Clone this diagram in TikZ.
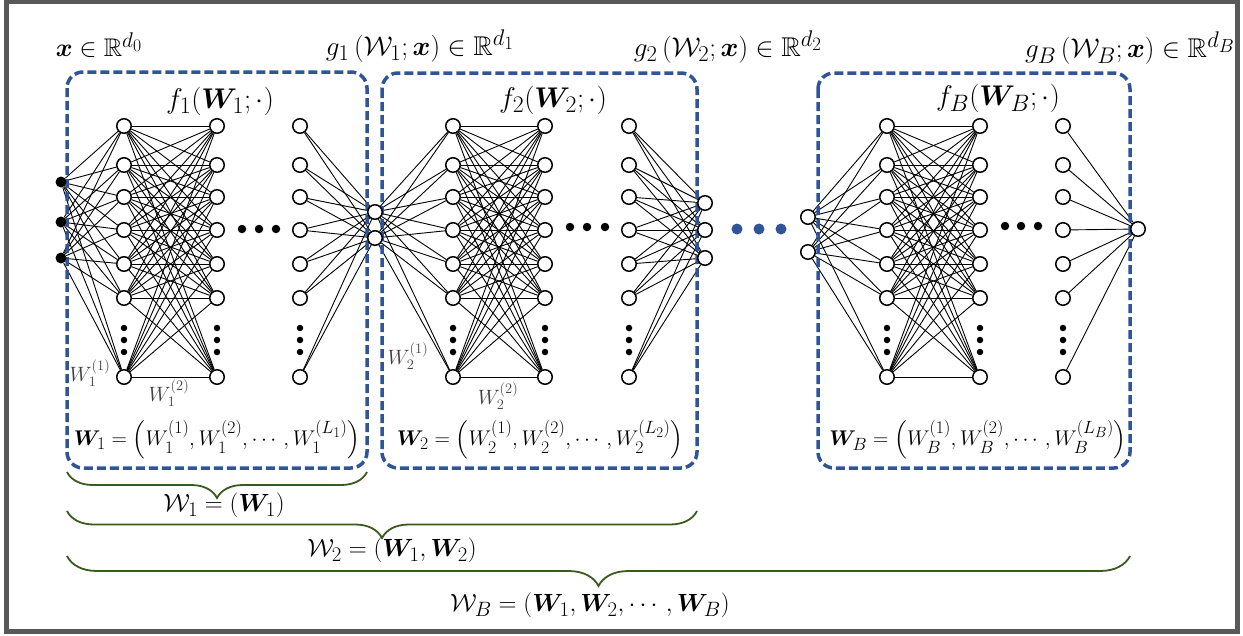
\documentclass[tikz,border=0pt]{standalone}
\usepackage{amsmath,amssymb,bm}
\usetikzlibrary{decorations.pathreplacing}
\definecolor{boxblue}{HTML}{2F5597}
\definecolor{bracegreen}{HTML}{3B5A1F}
\definecolor{framegray}{HTML}{595959}
\pgfdeclarelayer{edgelayer}
\pgfdeclarelayer{boxlayer}
\pgfsetlayers{edgelayer,boxlayer,main}
\begin{document}
\begin{tikzpicture}[x=1pt,y=-1pt,
  neuron/.style={circle,draw,line width=1.5pt,fill=white,minimum size=14.5pt,inner sep=0pt},
  innode/.style={circle,fill=black,minimum size=11pt,inner sep=0pt},
  vdot/.style={circle,fill=black,minimum size=6.5pt,inner sep=0pt},
  hdot/.style={circle,fill=black,minimum size=8.5pt,inner sep=0pt},
  bdot/.style={circle,fill=boxblue,minimum size=11pt,inner sep=0pt},
  conn/.style={line width=0.9pt},
  blockbox/.style={draw=boxblue,line width=3.5pt,dash pattern=on 9pt off 4pt,rounded corners=16pt},
  gbrace/.style={draw=bracegreen,line width=1.8pt,decorate,decoration={brace,mirror,amplitude=#1}},
  lab/.style={font=\Huge,inner sep=0pt},
  xlab/.style={font=\Huge,inner sep=0pt,scale=1.025,transform shape},
  glab/.style={font=\Huge,inner sep=0pt,scale=1.09,transform shape},
  flab/.style={font=\Huge,inner sep=0pt,scale=1.145,transform shape},
  blab/.style={font=\Huge,inner sep=0pt,scale=0.855,transform shape},
  wlab/.style={font=\huge,text=black!75,inner sep=0pt},
]
\useasboundingbox (0,0) rectangle (1243,635);
\draw[framegray,line width=5pt] (6.5,1.5) rectangle (1237.5,631.5);

% layers of the three blocks
\foreach \b/\xa/\xb/\xc in {1/124/217/300, 2/453/545/629, 3/887/980/1063}{
  \foreach \i/\y in {1/126,2/165,3/197,4/230,5/264,6/298,7/377}{
    \node[neuron] (b\b a\i) at (\xa,\y) {};
    \node[neuron] (b\b b\i) at (\xb,\y) {};
    \node[neuron] (b\b c\i) at (\xc,\y) {};
  }
  \foreach \k/\yy in {1/328,2/340,3/352}{
    \node[vdot] (b\b va\k) at (\xa,\yy) {};
    \node[vdot] (b\b vb\k) at (\xb,\yy) {};
    \node[vdot] (b\b vc\k) at (\xc,\yy) {};
  }
}
% inputs / outputs
\node[innode] (in1) at (61,182) {};
\node[innode] (in2) at (61,222) {};
\node[innode] (in3) at (61,258) {};
\node[neuron] (o11) at (375,212) {};
\node[neuron] (o12) at (375,238) {};
\node[neuron] (o21) at (705,203) {};
\node[neuron] (o22) at (705,230) {};
\node[neuron] (o23) at (705,258) {};
\node[neuron] (i31) at (808,217) {};
\node[neuron] (i32) at (808,252) {};
\node[neuron] (o31) at (1138,229) {};
% horizontal ellipses
\node[hdot] (h11) at (242,229) {};
\node[hdot] (h12) at (259,229) {};
\node[hdot] (h13) at (276,229) {};
\node[hdot] (h21) at (570,227) {};
\node[hdot] (h22) at (587,227) {};
\node[hdot] (h23) at (605,227) {};
\node[hdot] (h31) at (1005,226) {};
\node[hdot] (h32) at (1021,226) {};
\node[hdot] (h33) at (1038,226) {};
\node[bdot] (bd1) at (737,229) {};
\node[bdot] (bd2) at (759,229) {};
\node[bdot] (bd3) at (781,229) {};

% connectors
\begin{pgfonlayer}{edgelayer}
\foreach \i in {1,...,7}{
  \foreach \k in {1,2,3}{ \draw[conn] (in\k) -- (b1a\i); }
  \foreach \k in {1,2}{ \draw[conn] (o1\k) -- (b2a\i); \draw[conn] (i3\k) -- (b3a\i); \draw[conn] (b1c\i) -- (o1\k); }
  \foreach \k in {1,2,3}{ \draw[conn] (b2c\i) -- (o2\k); }
  \draw[conn] (b3c\i) -- (o31);
  \foreach \j in {1,...,7}{
    \draw[conn] (b1a\i) -- (b1b\j);
    \draw[conn] (b2a\i) -- (b2b\j);
    \draw[conn] (b3a\i) -- (b3b\j);
  }
}
\end{pgfonlayer}

% dashed blocks
\begin{pgfonlayer}{boxlayer}
\draw[blockbox] (67,72) rectangle (367,468);
\draw[blockbox] (382,73) rectangle (697,468);
\draw[blockbox] (818,73) rectangle (1130,468);
\end{pgfonlayer}

% braces
\coordinate (br1a) at (67,472);
\coordinate (br1b) at (367,472);
\coordinate (br2a) at (67,511);
\coordinate (br2b) at (697,511);
\coordinate (br3a) at (67,556);
\coordinate (br3b) at (1130,556);
\draw[gbrace=26pt] (br1a) -- (br1b);
\draw[gbrace=27pt] (br2a) -- (br2b);
\draw[gbrace=30pt] (br3a) -- (br3b);

% labels
\node[xlab] (xin) at (99,45) {$\bm{x}\in\mathbb{R}^{d_0}$};
\node[glab] (g1) at (420,46) {$g_1\left(\mathcal{W}_1;\bm{x}\right)\in\mathbb{R}^{d_1}$};
\node[glab] (g2) at (728,47) {$g_2\left(\mathcal{W}_2;\bm{x}\right)\in\mathbb{R}^{d_2}$};
\node[glab] (gB) at (1130,48) {$g_B\left(\mathcal{W}_B;\bm{x}\right)\in\mathbb{R}^{d_B}$};
\node[flab] (f1) at (220,101) {$f_1(\bm{W}_1;\cdot)$};
\node[flab] (f2) at (553,100) {$f_2(\bm{W}_2;\cdot)$};
\node[flab] (fB) at (998,98) {$f_B(\bm{W}_B;\cdot)$};
\node[wlab] (w11) at (90,373) {$W_1^{(1)}$};
\node[wlab] (w12) at (169,393) {$W_1^{(2)}$};
\node[wlab] (w21) at (408,356) {$W_2^{(1)}$};
\node[wlab] (w22) at (498,396) {$W_2^{(2)}$};
\node[blab] (W1) at (217,440) {$\bm{W}_1=\left(W_1^{(1)},W_1^{(2)},\cdots,W_1^{(L_1)}\right)$};
\node[blab] (W2) at (540,440) {$\bm{W}_2=\left(W_2^{(1)},W_2^{(2)},\cdots,W_2^{(L_2)}\right)$};
\node[blab] (WB) at (978,440) {$\bm{W}_B=\left(W_B^{(1)},W_B^{(2)},\cdots,W_B^{(L_B)}\right)$};
\node[lab] (cw1) at (224,505) {$\mathcal{W}_1=(\bm{W}_1)$};
\node[lab] (cw2) at (392,550) {$\mathcal{W}_2=(\bm{W}_1,\bm{W}_2)$};
\node[lab] (cwB) at (590,605) {$\mathcal{W}_B=(\bm{W}_1,\bm{W}_2,\cdots,\bm{W}_B)$};
\end{tikzpicture}
\end{document}
